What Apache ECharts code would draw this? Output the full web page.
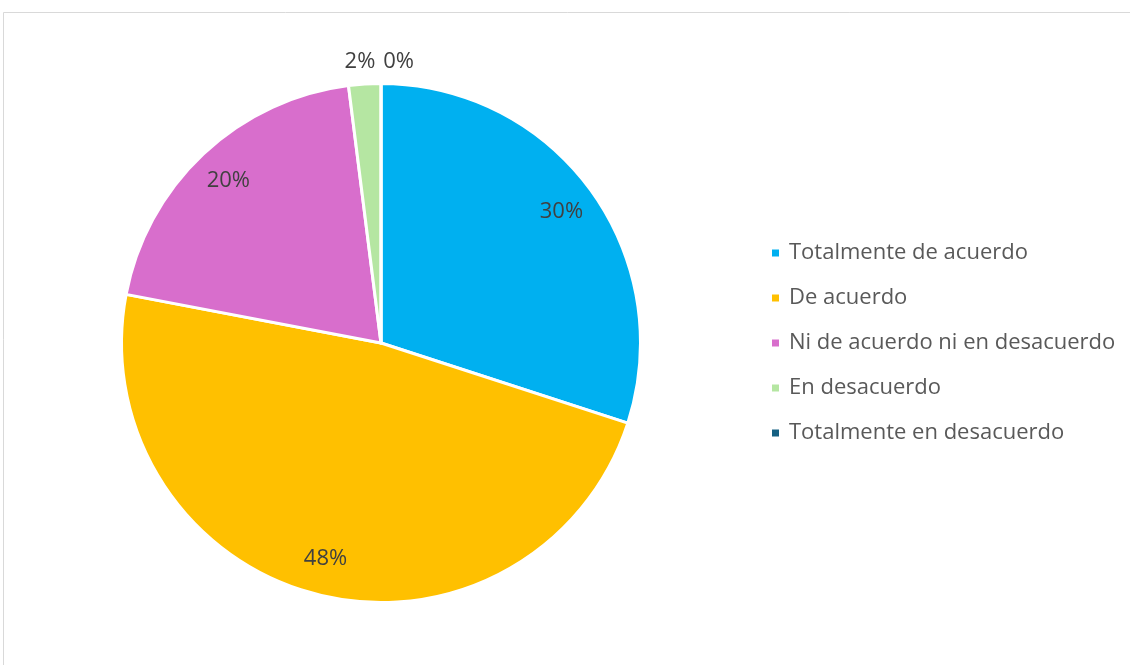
<!DOCTYPE html>
<html>
<head>
<meta charset="utf-8">
<script src="https://cdn.jsdelivr.net/npm/echarts@6/dist/echarts.min.js"></script>
<style>
  html, body { margin: 0; padding: 0; background: #ffffff; }
  #chart { width: 1130px; height: 665px; }
</style>
</head>
<body>
<div id="chart"></div>
<script>
// Survey answers and their shares (%)
const categories = [
  'Totalmente de acuerdo',
  'De acuerdo',
  'Ni de acuerdo ni en desacuerdo',
  'En desacuerdo',
  'Totalmente en desacuerdo'
];
const values = [30, 48, 20, 2, 0];
const colors = ['#00B0F0', '#FFC000', '#D86ECC', '#B5E6A2', '#156082'];

const FONT = '"Open Sans", "Noto Sans", sans-serif';
const CENTER = [381, 343];
const RADIUS = 259.5;
const pct = p => Math.round(p.percent) + '%';

// Slices too thin for an inside label get theirs above the rim;
// the empty last slice sits exactly at 12 o'clock, so its label is pushed to the right.
const outsideLabelGap = { 3: -12, 4: -33 };

const labelText = { fontSize: 22, color: '#404040', fontFamily: FONT };

const chart = echarts.init(document.getElementById('chart'), null, { renderer: 'canvas' });

chart.setOption({
  animation: false,
  backgroundColor: '#ffffff',
  graphic: [{
    type: 'rect',
    shape: { x: 3.5, y: 12.5, width: 1300, height: 800 },
    style: { fill: 'none', stroke: '#d9d9d9', lineWidth: 1 },
    silent: true
  }],
  legend: {
    orient: 'vertical',
    left: 770,
    top: 241,
    padding: 0,
    icon: 'rect',
    itemWidth: 9,
    itemHeight: 9,
    itemGap: 21,
    selectedMode: false,
    textStyle: { fontSize: 22, color: '#595959', fontFamily: FONT, lineHeight: 24, padding: [0, 0, 0, 4] },
    data: categories.map((name, i) => ({ name, itemStyle: { color: colors[i] } }))
  },
  series: [
    {
      type: 'pie',
      center: CENTER,
      radius: RADIUS,
      startAngle: 90,
      clockwise: true,
      avoidLabelOverlap: false,
      minShowLabelAngle: -1,
      silent: true,
      itemStyle: { borderColor: '#ffffff', borderWidth: 3 },
      label: Object.assign({ show: false, position: 'outside', formatter: pct }, labelText),
      labelLine: { show: false, length: 22, length2: 0 },
      labelLayout: { hideOverlap: false },
      data: categories.map((name, i) => {
        const item = { name, value: values[i], itemStyle: { color: colors[i] } };
        if (i in outsideLabelGap) {
          item.label = { show: true, distanceToLabelLine: outsideLabelGap[i] };
        }
        return item;
      })
    },
    {
      // transparent ring carrying the inside labels of the larger slices
      type: 'pie',
      center: CENTER,
      radius: [180.5, RADIUS],
      startAngle: 90,
      clockwise: true,
      avoidLabelOverlap: false,
      silent: true,
      itemStyle: { color: 'rgba(0,0,0,0)', borderWidth: 0 },
      label: Object.assign({ show: true, position: 'inside', formatter: pct }, labelText),
      labelLine: { show: false },
      data: categories.map((name, i) => ({
        name,
        value: values[i],
        label: { show: !(i in outsideLabelGap) }
      }))
    }
  ]
});
</script>
</body>
</html>
